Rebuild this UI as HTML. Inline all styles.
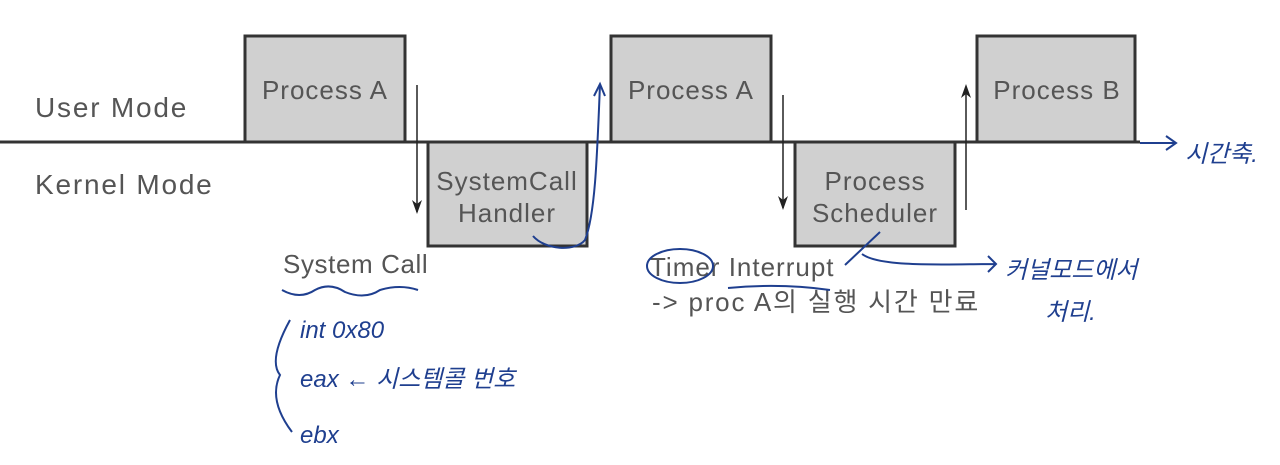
<!DOCTYPE html>
<html><head><meta charset="utf-8"><style>
body{margin:0;background:#fff;}
svg{display:block}
.t{font-family:"Liberation Sans","Noto Sans CJK KR",sans-serif;fill:#555;}
.h{font-family:"Liberation Sans","Noto Sans CJK KR",sans-serif;fill:#1f3f8f;font-style:italic}
</style></head><body>
<svg width="1280" height="465" viewBox="0 0 1280 465" xmlns="http://www.w3.org/2000/svg">
<g fill="#d0d0d0" stroke="#333" stroke-width="3">
<rect x="245" y="36" width="160" height="106"/>
<rect x="428" y="142" width="159" height="104"/>
<rect x="611" y="36" width="160" height="106"/>
<rect x="795" y="142" width="160" height="104"/>
<rect x="977" y="36" width="158" height="106"/>
</g>
<line x1="0" y1="142" x2="1140" y2="142" stroke="#333" stroke-width="3"/>
<g stroke="#222" stroke-width="1.5">
<line x1="417" y1="85" x2="417" y2="212"/>
<line x1="783" y1="95" x2="783" y2="208"/>
<line x1="966" y1="88" x2="966" y2="210"/>
</g>
<g fill="#222">
<path d="M412,200 L417,214 L422,200 L417,204z"/>
<path d="M778,196 L783,210 L788,196 L783,200z"/>
<path d="M961,98 L966,84 L971,98 L966,94z"/>
</g>
<g class="t" font-size="26">
<text x="35" y="117" font-size="28" letter-spacing="1.8">User Mode</text>
<text x="35" y="194" font-size="28" letter-spacing="1.8">Kernel Mode</text>
<text x="325" y="99" text-anchor="middle" letter-spacing="1">Process A</text>
<text x="507" y="190" text-anchor="middle" letter-spacing="1">SystemCall</text>
<text x="507" y="222" text-anchor="middle" letter-spacing="1">Handler</text>
<text x="691" y="99" text-anchor="middle" letter-spacing="1">Process A</text>
<text x="875" y="190" text-anchor="middle" letter-spacing="1">Process</text>
<text x="875" y="222" text-anchor="middle" letter-spacing="1">Scheduler</text>
<text x="1057" y="99" text-anchor="middle" letter-spacing="1">Process B</text>
<text x="283" y="273" letter-spacing="0.6">System Call</text>
<text x="650" y="276" letter-spacing="1">Timer Interrupt</text>
<text x="652" y="311" letter-spacing="1.8">-&gt; proc A의 실행 시간 만료</text>
</g>
<g fill="none" stroke="#1f3f8f" stroke-width="2">
<path d="M533,236 C545,250 575,252 585,240 C595,215 597,160 600,84"/>
<path d="M594,96 L600,84 L605,96"/>
<ellipse cx="680" cy="266" rx="33" ry="17"/>
<path d="M728,288 Q780,283 830,290"/>
<path d="M845,265 L880,232"/>
<path d="M862,254 C880,268 950,264 995,264 M988,256 L996,264 L988,272"/>
<path d="M282,290 Q300,300 315,290 Q330,282 345,292 Q365,300 380,290 Q400,284 418,290"/>
<path d="M290,320 Q268,360 280,375 Q268,400 292,432"/>
<path d="M1140,143 L1175,143 M1166,136 L1176,143 L1166,150"/>
</g>
<g class="h" font-size="24">
<text x="1185" y="162">시간축.</text>
<text x="1005" y="278">커널모드에서</text>
<text x="1045" y="320">처리.</text>
<text x="300" y="338">int 0x80</text>
<text x="300" y="387">eax ← 시스템콜 번호</text>
<text x="300" y="443">ebx</text>
</g>
</svg>
</body></html>
